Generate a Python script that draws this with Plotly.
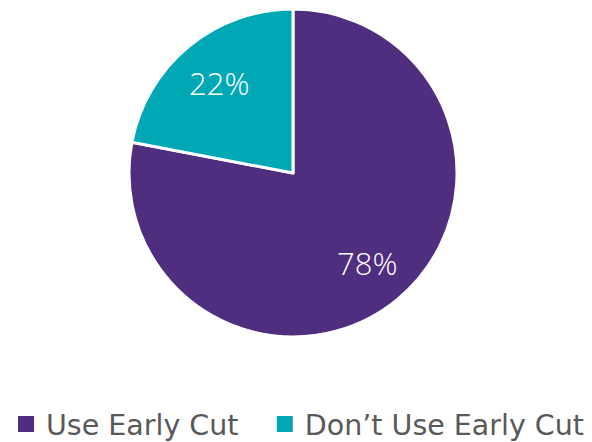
import math
import plotly.graph_objects as go

labels = ["Use Early Cut", "Don’t Use Early Cut"]
values = [78, 22]
colors = ["#4F2D7F", "#00A7B5"]

W, H = 592, 442
OFF = 8  # page body margin
cx, cy, R = 293 - OFF, 173 - OFF, 164  # pie centre/radius in paper px (from top)

dom_x = [(cx - R) / W, (cx + R) / W]
dom_y = [(H - (cy + R)) / H, (H - (cy - R)) / H]

fig = go.Figure()
fig.add_trace(go.Pie(
    labels=labels,
    values=values,
    sort=False,
    direction="clockwise",
    rotation=0,
    marker=dict(colors=colors, line=dict(color="white", width=3)),
    textinfo="none",
    domain=dict(x=dom_x, y=dom_y),
    hoverinfo="skip",
    showlegend=False,
))

# legend entries (square swatches) for each category
pads = ["\u2002\u00a0", ""]
for lab, col, pad in zip(labels, colors, pads):
    fig.add_trace(go.Scatter(
        x=[None], y=[None], mode="markers", name=lab + pad,
        marker=dict(symbol="square", size=16, color=col, line=dict(width=0)),
        showlegend=True, hoverinfo="skip",
    ))

# percentage labels placed along each slice's mid-angle
total = sum(values)
start = 90.0
annotations = []
for v in values:
    sweep = 360.0 * v / total
    mid = math.radians(start - sweep / 2)
    r = 0.71 * R
    px = cx + r * math.cos(mid)
    py = cy - r * math.sin(mid)
    annotations.append(dict(
        x=px / W, y=(H - py) / H, xref="paper", yref="paper",
        text=f"{round(100 * v / total)}%", showarrow=False,
        font=dict(color="white", size=31, family="Open Sans", weight=300),
        xanchor="center", yanchor="middle",
    ))
    start -= sweep

fig.update_layout(
    width=W, height=H,
    margin=dict(l=0, r=0, t=0, b=0),
    paper_bgcolor="white",
    plot_bgcolor="rgba(0,0,0,0)",
    xaxis=dict(visible=False),
    yaxis=dict(visible=False),
    showlegend=True,
    annotations=annotations,
    legend=dict(
        orientation="h",
        x=0, xanchor="left",
        y=0, yanchor="bottom",
        indentation=-2,
        itemsizing="trace",
        font=dict(size=28.5, color="#595959", family="DejaVu Sans"),
    ),
)

fig.write_html("out.html")
